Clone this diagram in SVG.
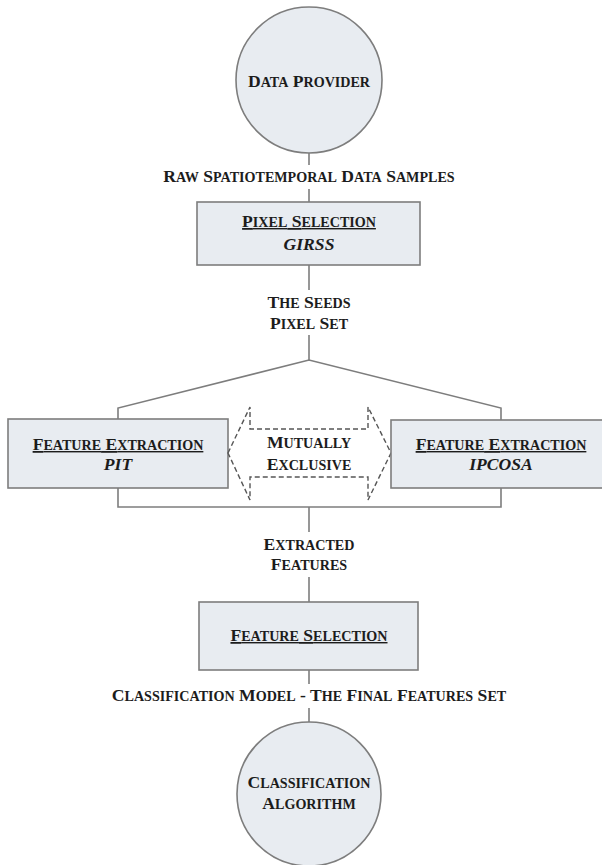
<svg xmlns="http://www.w3.org/2000/svg" width="602" height="865" viewBox="0 0 602 865">
<style>
.node{fill:#e8ecf1;stroke:#7d7d7d;stroke-width:1.6}
.conn{fill:none;stroke:#7d7d7d;stroke-width:1.6}
.dash{fill:#ffffff;stroke:#555;stroke-width:1.4;stroke-dasharray:5 3}
text{font-family:"Liberation Serif","Times New Roman",serif;font-weight:bold;font-size:17.6px;fill:#1c1c1c;text-anchor:middle}
.sc{font-size:14.1px}
.it{font-style:italic}
.ul{text-decoration:underline}
</style>
<rect width="602" height="865" fill="#ffffff"/>
<g id="connectors">
<line class="conn" x1="309" y1="153" x2="309" y2="165"/>
<line class="conn" x1="309" y1="189" x2="309" y2="202"/>
<line class="conn" x1="309" y1="265" x2="309" y2="290"/>
<polyline class="conn" points="118,419 118,408 309,360 501,408 501,420"/>
<line class="conn" x1="309" y1="335" x2="309" y2="360"/>
<polyline class="conn" points="118,488 118,507 501,507 501,488"/>
<line class="conn" x1="309" y1="507" x2="309" y2="532"/>
<line class="conn" x1="309" y1="577" x2="309" y2="602"/>
<line class="conn" x1="309" y1="670" x2="309" y2="684"/>
<line class="conn" x1="309" y1="708" x2="309" y2="722"/>
<text x="309" y="182">R<tspan class="sc">AW</tspan> S<tspan class="sc">PATIOTEMPORAL</tspan> D<tspan class="sc">ATA</tspan> S<tspan class="sc">AMPLES</tspan></text>
<text x="309" y="308">T<tspan class="sc">HE</tspan> S<tspan class="sc">EEDS</tspan></text>
<text x="309" y="329">P<tspan class="sc">IXEL</tspan> S<tspan class="sc">ET</tspan></text>
<text x="309" y="550">E<tspan class="sc">XTRACTED</tspan></text>
<text x="309" y="570">F<tspan class="sc">EATURES</tspan></text>
<text x="309" y="701">C<tspan class="sc">LASSIFICATION</tspan> M<tspan class="sc">ODEL</tspan> - T<tspan class="sc">HE</tspan> F<tspan class="sc">INAL</tspan> F<tspan class="sc">EATURES</tspan> S<tspan class="sc">ET</tspan></text>
</g>
<g id="data-provider">
<circle class="node" cx="309" cy="80" r="73"/>
<text x="309" y="87">D<tspan class="sc">ATA</tspan> P<tspan class="sc">ROVIDER</tspan></text>
</g>
<g id="pixel-selection">
<rect class="node" x="197" y="202" width="223" height="63"/>
<text class="ul" x="309" y="227">P<tspan class="sc">IXEL</tspan> S<tspan class="sc">ELECTION</tspan></text>
<text class="it" x="309" y="250">GIRSS</text>
</g>
<g id="feature-extraction-pit">
<rect class="node" x="8" y="419" width="220" height="69"/>
<text class="ul" x="118" y="450">F<tspan class="sc">EATURE</tspan> E<tspan class="sc">XTRACTION</tspan></text>
<text class="it" x="118" y="470">PIT</text>
</g>
<g id="mutually-exclusive">
<polygon class="dash" points="228,453 250,407 250,429 368,429 368,407 391,453 368,500 368,477 250,477 250,500"/>
<text x="309" y="448">M<tspan class="sc">UTUALLY</tspan></text>
<text x="309" y="470">E<tspan class="sc">XCLUSIVE</tspan></text>
</g>
<g id="feature-extraction-ipcosa">
<rect class="node" x="391" y="420" width="220" height="68"/>
<text class="ul" x="501" y="450">F<tspan class="sc">EATURE</tspan> E<tspan class="sc">XTRACTION</tspan></text>
<text class="it" x="501" y="470">IPCOSA</text>
</g>
<g id="feature-selection">
<rect class="node" x="199" y="602" width="219" height="68"/>
<text class="ul" x="309" y="641">F<tspan class="sc">EATURE</tspan> S<tspan class="sc">ELECTION</tspan></text>
</g>
<g id="classification-algorithm">
<circle class="node" cx="309" cy="794" r="72"/>
<text x="309" y="788">C<tspan class="sc">LASSIFICATION</tspan></text>
<text x="309" y="809">A<tspan class="sc">LGORITHM</tspan></text>
</g>
</svg>
